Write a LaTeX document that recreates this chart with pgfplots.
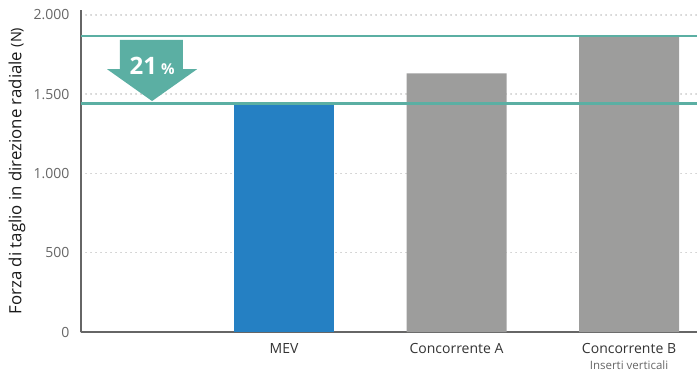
\documentclass[border=0pt]{standalone}
\usepackage{fontspec}
\setmainfont{Open Sans}
\usepackage{pgfplots}
\pgfplotsset{compat=1.18}
\definecolor{teal1}{HTML}{5BAFA3}
\definecolor{blue1}{HTML}{2580C3}
\definecolor{grey1}{HTML}{9D9D9C}
\definecolor{gridc}{HTML}{BDBDBD}
\definecolor{axc}{HTML}{666666}
\definecolor{txt}{HTML}{333333}
\begin{document}
\begin{tikzpicture}
\useasboundingbox (0,0) rectangle (697pt,376pt);
\begin{axis}[
  at={(81pt,44pt)}, anchor=south west,
  scale only axis, width=616pt, height=322pt,
  xmin=-0.177, xmax=3.394, ymin=0, ymax=2030,
  axis x line=bottom, axis y line=left,
  axis line style={-, draw=axc, line width=1.2pt},
  ytick={0,500,1000,1500,2000},
  xtick={1,2,3},
  xticklabels={MEV, Concorrente A, {Concorrente B\\[0pt]{\fontsize{11.5}{13}\selectfont\color{axc} Inserti verticali}}},
  major tick length=0pt,
  ymajorgrids,
  grid style={gridc, line width=1.5pt, line cap=round, dash pattern=on 0.1pt off 4.9pt},
  /pgf/number format/.cd, 1000 sep={.}, assume math mode=true,
  /pgfplots/.cd,
  yticklabel style={font=\fontsize{14}{16}\selectfont, text=axc, xshift=-8pt},
  xticklabel style={font=\fontsize{14}{16}\selectfont, text=txt, align=center, yshift=-8pt, anchor=north},
  ylabel={Forza di taglio in direzione radiale {\fontsize{14.5}{17}\selectfont(N)}},
  ylabel style={font=\fontsize{16.8}{19}\selectfont, text=black!90, at={(axis description cs:-0.104,0.5)}, anchor=center, rotate=0},
  clip=false,
]
\addplot[ybar, bar width=100pt, fill=blue1, draw=none] coordinates {(1,1440)};
\addplot[ybar, bar width=100pt, fill=grey1, draw=none] coordinates {(2,1630) (3,1866)};
\addplot[teal1, line width=2.2pt] coordinates {(-0.177,1866) (3.394,1866)};
\addplot[teal1, line width=2.2pt] coordinates {(-0.177,1440) (3.394,1440)};
\fill[teal1] (axis cs:0.049,1841) -- (axis cs:0.414,1841) -- (axis cs:0.414,1657) -- (axis cs:0.496,1657) -- (axis cs:0.235,1456) -- (axis cs:-0.026,1657) -- (axis cs:0.049,1657) -- cycle;
\node[text=white, font=\bfseries\fontsize{24}{27}\selectfont, anchor=center] at (axis cs:0.235,1677) {21\,{\fontsize{15}{18}\selectfont\%}};
\end{axis}
\end{tikzpicture}
\end{document}
